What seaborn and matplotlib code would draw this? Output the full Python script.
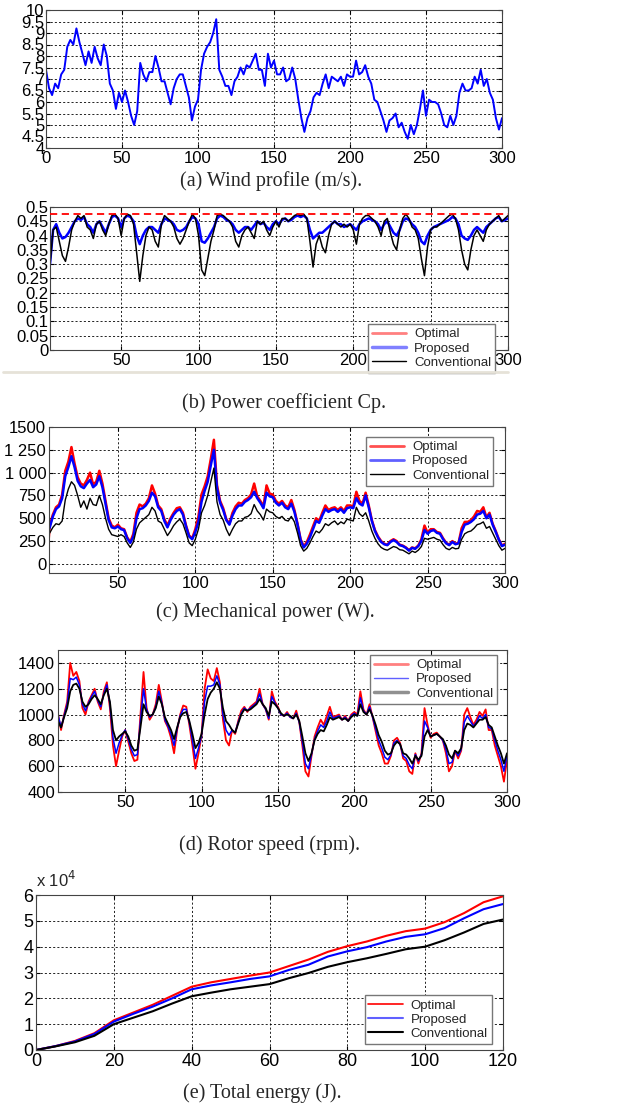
import numpy as np
import matplotlib
matplotlib.use('Agg')
import matplotlib.pyplot as plt
import seaborn as sns
from matplotlib.lines import Line2D

sns.set_style('ticks')
plt.rcParams['font.family'] = ['Liberation Sans', 'DejaVu Sans']

# ── data ──────────────────────────────────────────────────────────────────────
T_WIND = np.arange(0, 301, 2)
WIND = [
    7.4, 6.6, 6.3, 6.8, 6.6, 7.2, 7.4, 8.4, 8.7, 8.5,
    9.2, 8.6, 8.1, 7.6, 8.2, 7.7, 8.4, 7.9, 7.6, 8.5,
    8.0, 6.8, 6.5, 5.7, 6.4, 6.0, 6.5, 6.0, 5.4, 5.0,
    5.6, 7.7, 7.2, 6.9, 7.3, 7.3, 8.0, 7.5, 6.9, 6.9,
    6.4, 5.9, 6.6, 7.0, 7.2, 7.2, 6.7, 6.2, 5.2, 5.8,
    6.1, 7.4, 8.1, 8.4, 8.6, 9.0, 9.6, 7.4, 7.1, 6.7,
    6.7, 6.3, 6.9, 7.1, 7.5, 7.2, 7.6, 7.5, 7.8, 8.1,
    7.4, 7.4, 6.7, 8.1, 7.5, 7.8, 7.2, 7.2, 7.5, 6.9,
    7.0, 7.5, 7.0, 6.1, 5.3, 4.7, 5.3, 5.6, 6.2, 6.4,
    6.3, 6.8, 7.2, 6.6, 7.1, 7.0, 6.9, 7.1, 6.7, 7.2,
    7.1, 7.1, 7.8, 7.2, 7.3, 7.6, 7.1, 6.8, 6.1, 6.0,
    5.6, 5.2, 4.7, 5.2, 5.3, 5.5, 4.9, 5.1, 4.7, 4.4,
    5.0, 4.6, 5.0, 5.7, 6.5, 5.4, 6.1, 6.0, 6.0, 5.9,
    5.5, 5.0, 4.9, 5.4, 5.0, 5.4, 6.4, 6.8, 6.5, 6.5,
    6.6, 7.1, 6.8, 7.4, 6.7, 7.0, 6.4, 6.1, 5.3, 4.8,
    5.3,
]

T_SIM = np.arange(4, 301, 2)
CP_OPTIMAL = 0.475
CP_PROPOSED = [
    0.30, 0.42, 0.44, 0.41, 0.39, 0.395, 0.41, 0.43, 0.45, 0.46,
    0.455, 0.465, 0.44, 0.43, 0.41, 0.44, 0.45, 0.43, 0.41, 0.44,
    0.465, 0.47, 0.46, 0.43, 0.46, 0.47, 0.465, 0.45, 0.40, 0.37,
    0.40, 0.42, 0.43, 0.43, 0.42, 0.41, 0.44, 0.46, 0.455, 0.45,
    0.44, 0.42, 0.415, 0.42, 0.43, 0.45, 0.465, 0.46, 0.44, 0.38,
    0.375, 0.39, 0.41, 0.43, 0.46, 0.47, 0.465, 0.455, 0.45, 0.44,
    0.42, 0.41, 0.42, 0.43, 0.43, 0.42, 0.435, 0.45, 0.44, 0.445,
    0.43, 0.42, 0.44, 0.45, 0.44, 0.455, 0.46, 0.45, 0.455, 0.465,
    0.47, 0.465, 0.47, 0.46, 0.42, 0.39, 0.40, 0.41, 0.41, 0.42,
    0.43, 0.44, 0.45, 0.44, 0.44, 0.43, 0.435, 0.44, 0.43, 0.42,
    0.44, 0.45, 0.455, 0.46, 0.455, 0.45, 0.44, 0.42, 0.44, 0.45,
    0.43, 0.41, 0.40, 0.42, 0.45, 0.46, 0.455, 0.44, 0.43, 0.41,
    0.38, 0.37, 0.40, 0.42, 0.43, 0.435, 0.44, 0.445, 0.45, 0.455,
    0.465, 0.46, 0.44, 0.40, 0.39, 0.385, 0.40, 0.42, 0.43, 0.42,
    0.41, 0.43, 0.44, 0.45, 0.46, 0.465, 0.45, 0.455, 0.46,
]
CP_CONVENTIONAL = [
    0.30, 0.42, 0.43, 0.38, 0.33, 0.31, 0.36, 0.42, 0.45, 0.47,
    0.46, 0.47, 0.43, 0.42, 0.39, 0.44, 0.45, 0.42, 0.40, 0.44,
    0.47, 0.475, 0.46, 0.40, 0.46, 0.475, 0.47, 0.44, 0.34, 0.24,
    0.33, 0.40, 0.43, 0.42, 0.38, 0.36, 0.44, 0.47, 0.46, 0.45,
    0.43, 0.39, 0.37, 0.39, 0.42, 0.45, 0.475, 0.46, 0.40, 0.28,
    0.26, 0.32, 0.38, 0.42, 0.47, 0.475, 0.47, 0.46, 0.45, 0.43,
    0.38, 0.36, 0.40, 0.42, 0.43, 0.41, 0.39, 0.45, 0.44, 0.45,
    0.42, 0.40, 0.43, 0.45, 0.43, 0.46, 0.46, 0.45, 0.46, 0.47,
    0.475, 0.47, 0.475, 0.46, 0.38, 0.29, 0.37, 0.40, 0.36, 0.34,
    0.40, 0.44, 0.45, 0.44, 0.43, 0.44, 0.43, 0.44, 0.42, 0.37,
    0.44, 0.46, 0.47, 0.47, 0.46, 0.45, 0.43, 0.40, 0.45, 0.46,
    0.41, 0.37, 0.35, 0.42, 0.46, 0.475, 0.46, 0.43, 0.42, 0.39,
    0.32, 0.26, 0.36, 0.42, 0.43, 0.43, 0.44, 0.45, 0.46, 0.47,
    0.475, 0.46, 0.42, 0.35, 0.30, 0.28, 0.35, 0.40, 0.42, 0.40,
    0.38, 0.42, 0.44, 0.45, 0.46, 0.47, 0.45, 0.46, 0.47,
]

P_OPTIMAL = [
    0, 420, 540, 620, 650, 760, 1020, 1120, 1280, 1100,
    950, 880, 860, 920, 1000, 870, 900, 1020, 880, 690,
    500, 420, 400, 430, 390, 380, 290, 240, 330, 560,
    650, 630, 660, 720, 860, 770, 640, 600, 490, 420,
    500, 560, 610, 620, 560, 420, 310, 280, 380, 520,
    760, 850, 960, 1150, 1360, 860, 690, 610, 490, 440,
    560, 630, 670, 660, 700, 720, 760, 880, 740, 690,
    630, 860, 770, 760, 690, 660, 690, 640, 620, 700,
    590, 440, 270, 190, 240, 320, 410, 500, 470, 560,
    640, 590, 610, 620, 590, 620, 580, 640, 640, 630,
    790, 690, 660, 780, 640, 480, 370, 300, 250, 220,
    210, 250, 270, 250, 210, 200, 180, 150, 180, 170,
    200, 270, 420, 340, 380, 380, 350, 340, 280, 230,
    210, 250, 220, 230, 390, 460, 460, 480, 520, 580,
    570, 620, 510, 560, 440, 360, 270, 200, 220,
]
P_PROPOSED = [
    330, 400, 520, 600, 630, 720, 960, 1060, 1180, 1060,
    910, 850, 830, 880, 920, 840, 870, 960, 840, 660,
    480, 400, 390, 410, 380, 370, 280, 230, 300, 500,
    600, 610, 640, 690, 780, 740, 620, 580, 470, 400,
    480, 540, 580, 600, 540, 410, 300, 270, 350, 460,
    680, 800, 900, 1080, 1250, 830, 670, 590, 480, 430,
    530, 600, 640, 640, 680, 700, 730, 790, 720, 670,
    610, 780, 740, 730, 670, 640, 670, 620, 600, 660,
    570, 430, 260, 180, 220, 290, 380, 470, 450, 530,
    600, 570, 590, 600, 570, 600, 560, 610, 620, 610,
    720, 660, 640, 750, 620, 470, 360, 290, 240, 215,
    205, 240, 260, 240, 205, 195, 175, 145, 175, 165,
    195, 250, 370, 330, 360, 370, 340, 330, 270, 225,
    205, 240, 215, 225, 350, 430, 440, 460, 490, 540,
    550, 580, 500, 540, 430, 350, 265, 195, 210,
]
P_CONVENTIONAL = [
    300, 340, 400, 440, 430, 470, 700, 820, 900, 860,
    750, 620, 690, 600, 720, 650, 640, 750, 650, 500,
    380, 320, 310, 300, 320, 300, 230, 180, 240, 380,
    450, 480, 510, 540, 620, 580, 470, 450, 380, 310,
    360, 420, 460, 490, 440, 340, 230, 200, 270, 380,
    560, 640, 750, 900, 1050, 680, 540, 480, 380, 310,
    380, 440, 470, 470, 510, 520, 550, 650, 580, 540,
    480, 600, 570, 560, 520, 500, 520, 480, 470, 520,
    460, 340, 200, 140, 170, 230, 300, 360, 340, 380,
    440, 420, 450, 470, 430, 460, 440, 490, 480, 470,
    620, 550, 520, 560, 470, 360, 280, 220, 180, 160,
    150, 170, 190, 180, 155, 150, 130, 110, 140, 125,
    150, 190, 280, 270, 280, 290, 270, 260, 210, 170,
    155, 180, 165, 170, 270, 330, 350, 360, 390, 430,
    440, 460, 390, 410, 340, 270, 200, 150, 170,
]

RPM_OPTIMAL = [
    1000, 1000, 880, 1000, 1100, 1400, 1300, 1330, 1260, 1050,
    1000, 1100, 1150, 1200, 1100, 1040, 1180, 1250, 1050, 760,
    600, 720, 830, 880, 790, 700, 640, 650, 1000, 1330,
    1050, 960, 1000, 1080, 1230, 1100, 950, 900, 820, 700,
    880, 1000, 1070, 1060, 920, 760, 580, 700, 840, 1200,
    1350, 1280, 1260, 1360, 1250, 960, 800, 760, 880, 850,
    950, 1030, 1060, 1020, 1060, 1080, 1100, 1200, 1080, 1040,
    960, 1180, 1100, 1060, 1000, 990, 1020, 980, 970, 1030,
    940, 760, 560, 520, 680, 830, 900, 960, 920, 990,
    1060, 980, 990, 1000, 960, 990, 950, 1000, 1020, 1000,
    1180, 1040, 1000, 1080, 980, 870, 760, 700, 620, 620,
    680, 800, 820, 780, 660, 640, 560, 540, 700, 620,
    700, 1050, 920, 820, 850, 860, 830, 800, 700, 560,
    600, 720, 660, 720, 1000, 1050, 980, 920, 960, 1020,
    990, 1040, 880, 880, 760, 680, 600, 480, 650,
]
RPM_PROPOSED = [
    1500, 1000, 900, 990, 1080, 1280, 1270, 1290, 1230, 1080,
    1030, 1090, 1140, 1180, 1110, 1060, 1160, 1230, 1080, 820,
    700, 780, 840, 880, 810, 730, 680, 690, 950, 1200,
    1040, 980, 1000, 1060, 1180, 1090, 960, 910, 850, 760,
    890, 990, 1040, 1040, 940, 800, 660, 740, 840, 1100,
    1220, 1220, 1230, 1300, 1230, 1000, 880, 840, 880, 860,
    940, 1010, 1050, 1030, 1050, 1070, 1090, 1160, 1080, 1040,
    970, 1140, 1090, 1050, 1000, 990, 1010, 980, 970, 1010,
    940, 790, 620, 580, 690, 810, 870, 920, 900, 950,
    1020, 970, 980, 990, 960, 980, 950, 990, 1010, 990,
    1130, 1030, 1000, 1060, 980, 890, 800, 740, 670, 650,
    690, 780, 800, 770, 680, 660, 610, 580, 690, 640,
    690, 950, 900, 830, 840, 850, 830, 800, 730, 620,
    630, 720, 680, 730, 940, 990, 950, 910, 940, 990,
    970, 1000, 900, 890, 800, 720, 650, 560, 680,
]
RPM_CONVENTIONAL = [
    950, 950, 900, 980, 1050, 1180, 1230, 1240, 1200, 1100,
    1060, 1080, 1120, 1150, 1120, 1080, 1150, 1200, 1100, 880,
    800, 830, 850, 870, 830, 760, 720, 730, 900, 1080,
    1020, 990, 1000, 1050, 1140, 1080, 980, 930, 880, 810,
    900, 980, 1010, 1020, 950, 850, 740, 780, 850, 1000,
    1120, 1170, 1200, 1250, 1200, 1050, 950, 920, 880, 860,
    930, 1000, 1040, 1030, 1040, 1060, 1080, 1120, 1080, 1050,
    990, 1100, 1080, 1050, 1010, 990, 1000, 990, 970, 1000,
    950, 830, 700, 640, 700, 800, 850, 880, 870, 920,
    980, 960, 970, 980, 960, 970, 950, 980, 1000, 990,
    1080, 1020, 1000, 1040, 990, 920, 840, 790, 720, 690,
    700, 760, 790, 770, 700, 690, 660, 620, 680, 650,
    680, 830, 880, 830, 840, 850, 830, 810, 760, 690,
    660, 720, 700, 740, 880, 930, 920, 900, 930, 960,
    960, 980, 920, 900, 830, 760, 700, 620, 700,
]

T_ENERGY = np.arange(0, 121, 5)
E_OPTIMAL = [0, 0.15, 0.35, 0.65, 1.15, 1.45, 1.75, 2.1, 2.45, 2.62, 2.75, 2.88, 3.0,
             3.25, 3.5, 3.8, 4.02, 4.2, 4.42, 4.6, 4.7, 4.95, 5.3, 5.72, 5.95]
E_PROPOSED = [0, 0.15, 0.33, 0.62, 1.1, 1.4, 1.68, 2.0, 2.35, 2.5, 2.62, 2.75, 2.85,
              3.1, 3.3, 3.62, 3.82, 3.98, 4.2, 4.38, 4.48, 4.72, 5.1, 5.45, 5.65]
E_CONVENTIONAL = [0, 0.14, 0.3, 0.55, 1.0, 1.25, 1.5, 1.8, 2.08, 2.22, 2.35, 2.45, 2.55,
                  2.78, 2.98, 3.22, 3.4, 3.55, 3.72, 3.9, 4.0, 4.25, 4.55, 4.88, 5.05]

for arr in (CP_PROPOSED, CP_CONVENTIONAL, P_OPTIMAL, P_PROPOSED, P_CONVENTIONAL,
            RPM_OPTIMAL, RPM_PROPOSED, RPM_CONVENTIONAL):
    assert len(arr) == len(T_SIM), len(arr)
assert len(WIND) == len(T_WIND)

LABELS = ['Optimal', 'Proposed', 'Conventional']

# ── figure ────────────────────────────────────────────────────────────────────
W, H = 621, 1113
fig = plt.figure(figsize=(W / 100, H / 100), dpi=100)


def box(l, t, r, b):
    return fig.add_axes([l / W, 1 - b / H, (r - l) / W, (b - t) / H])


def style(ax, size=12):
    ax.grid(True, ls=(0, (2.5, 2.5)), color='k', lw=0.6)
    ax.tick_params(direction='in', length=3, labelsize=size, pad=2,
                   top=True, right=True, colors='k')
    for s in ax.spines.values():
        s.set_linewidth(0.8)
        s.set_color('#444')
    ax.set_xlabel('')
    ax.set_ylabel('')


def legend(ax, handles, loc, anchor):
    leg = ax.legend(handles, LABELS, loc=loc, bbox_to_anchor=anchor,
                    borderaxespad=0, fontsize=9.5, handlelength=2.6,
                    labelspacing=0.15, borderpad=0.3, handletextpad=0.6,
                    fancybox=False, framealpha=1, edgecolor='#777')
    leg.set_zorder(10)
    return leg


def caption(x, y, s):
    fig.text(x / W, 1 - y / H, s, ha='center', va='center',
             family=['Liberation Serif', 'DejaVu Serif'], fontsize=14.5)


# (a) wind
ax = box(46, 10, 502, 148)
sns.lineplot(x=T_WIND, y=WIND, ax=ax, color='#0000ff', lw=1.4)
ax.set_xlim(0, 300)
ax.set_ylim(4, 10)
ax.set_xticks(np.arange(0, 301, 50))
yt = np.arange(4, 10.01, 0.5)
ax.set_yticks(yt)
ax.set_yticklabels([f'{v:g}' for v in yt])
style(ax, 12)
ax.tick_params(axis='y', pad=1)
caption(271, 181, '(a) Wind profile (m/s).')

# (b) power coefficient
ax = box(50, 207, 508, 350)
sns.lineplot(x=T_SIM, y=CP_PROPOSED, ax=ax, color='#0000ff', lw=1.8)
sns.lineplot(x=T_SIM, y=CP_CONVENTIONAL, ax=ax, color='k', lw=1.1)
ax.axhline(CP_OPTIMAL, color='#ff0000', ls=(0, (4, 2.5)), lw=1.3, zorder=5)
ax.set_xlim(4, 300)
ax.set_ylim(0, 0.5)
ax.set_xticks(np.arange(50, 301, 50))
yt = np.arange(0, 0.501, 0.05)
ax.set_yticks(yt)
ax.set_yticklabels([f'{v:.2f}'.rstrip('0').rstrip('.') for v in yt])
style(ax, 12)
ax.tick_params(axis='y', pad=1)
legend(ax, [Line2D([], [], color='#ff8080', lw=2),
            Line2D([], [], color='#8080ff', lw=2.5),
            Line2D([], [], color='k', lw=1)],
       'lower right', (0.972, -0.16))
fig.add_artist(Line2D([3 / W, 508 / W], [1 - 372 / H] * 2, color='#e6e2d8', lw=2))
caption(284, 403, '(b) Power coefficient Cp.')

# (c) mechanical power
ax = box(49, 427, 505, 573)
sns.lineplot(x=T_SIM, y=P_OPTIMAL, ax=ax, color='#ff0000', lw=1.8)
sns.lineplot(x=T_SIM, y=P_PROPOSED, ax=ax, color='#0000ff', lw=1.8)
sns.lineplot(x=T_SIM, y=P_CONVENTIONAL, ax=ax, color='k', lw=1.0)
ax.set_xlim(5.5, 300)
ax.set_ylim(-100, 1500)
ax.set_xticks(np.arange(50, 301, 50))
ax.set_yticks(np.arange(0, 1501, 250))
ax.set_yticklabels(['0', '250', '500', '750', '1 000', '1 250', '1500'])
style(ax, 12)
legend(ax, [Line2D([], [], color='#ff5050', lw=2),
            Line2D([], [], color='#6060ff', lw=2),
            Line2D([], [], color='k', lw=1)],
       'upper right', (0.974, 0.932))
caption(265, 612, '(c) Mechanical power (W).')

# (d) rotor speed
ax = box(58, 650, 507, 792)
sns.lineplot(x=T_SIM, y=RPM_OPTIMAL, ax=ax, color='#ff0000', lw=1.3)
sns.lineplot(x=T_SIM, y=RPM_PROPOSED, ax=ax, color='#0000ff', lw=1.1)
sns.lineplot(x=T_SIM, y=RPM_CONVENTIONAL, ax=ax, color='k', lw=1.3)
ax.set_xlim(6, 300)
ax.set_ylim(400, 1500)
ax.set_xticks(np.arange(50, 301, 50))
ax.set_yticks(np.arange(400, 1401, 200))
style(ax, 12)
legend(ax, [Line2D([], [], color='#ff8080', lw=2),
            Line2D([], [], color='#6060ff', lw=1),
            Line2D([], [], color='#909090', lw=2.5)],
       'upper right', (0.978, 0.965))
caption(270, 845, '(d) Rotor speed (rpm).')

# (e) total energy
ax = box(36, 895, 503, 1050)
sns.lineplot(x=T_ENERGY, y=E_OPTIMAL, ax=ax, color='#ff0000', lw=1.5)
sns.lineplot(x=T_ENERGY, y=E_PROPOSED, ax=ax, color='#0000ff', lw=1.5)
sns.lineplot(x=T_ENERGY, y=E_CONVENTIONAL, ax=ax, color='k', lw=1.5)
ax.set_xlim(0, 120)
ax.set_ylim(0, 6)
ax.set_xticks(np.arange(0, 121, 20))
ax.set_yticks(np.arange(0, 7, 1))
style(ax, 13)
legend(ax, [Line2D([], [], color='#ff0000', lw=1.2),
            Line2D([], [], color='#6060ff', lw=1.5),
            Line2D([], [], color='k', lw=1.5)],
       'lower right', (0.976, 0.039))
fig.text(36 / W, 1 - 887 / H, r'x 10$^4$', fontsize=12, ha='left', va='baseline')
caption(262, 1093, '(e) Total energy (J).')

fig.savefig('out.png', dpi=100)
